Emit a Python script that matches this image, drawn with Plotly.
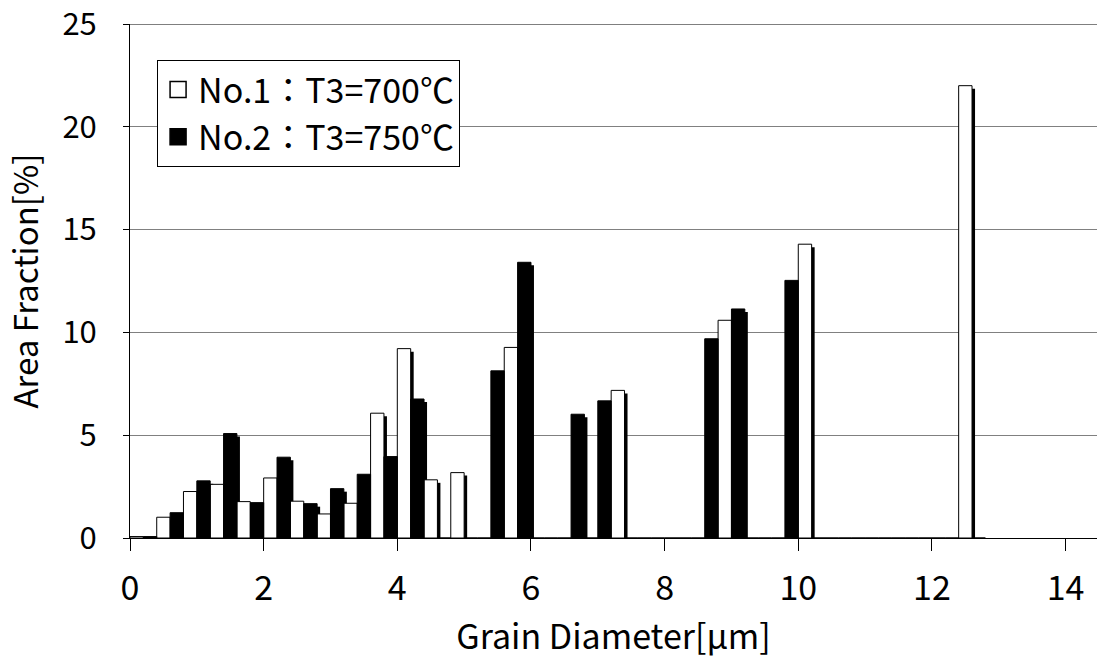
import plotly.graph_objects as go

# Category (bin) start positions in µm, bins are 0.4 µm wide
bin_start = [0.0, 0.4, 0.8, 1.2, 1.6, 2.0, 2.4, 2.8, 3.2, 3.6, 4.0, 4.4, 4.8, 5.2, 5.6, 6.0,
             6.4, 6.8, 7.2, 7.6, 8.0, 8.4, 8.8, 9.2, 9.6, 10.0, 10.4, 10.8, 11.2, 11.6, 12.0, 12.4]

no1_values = [0.07, 1.01, 2.26, 2.61, 1.77, 2.92, 1.79, 1.17, 1.69, 6.07, 9.21, 2.83, 3.18, 0.0, 9.27, 0.0,
              0.0, 0.0, 7.18, 0.0, 0.0, 0.0, 10.59, 0.0, 0.0, 14.29, 0.0, 0.0, 0.0, 0.0, 0.0, 22.0]
no2_values = [0.07, 1.23, 2.78, 5.08, 1.72, 3.93, 1.67, 2.40, 3.10, 3.96, 6.76, 0.0, 0.0, 8.13, 13.41, 0.0,
              6.02, 6.67, 0.0, 0.0, 0.0, 9.69, 11.14, 0.0, 12.53, 0.0, 0.0, 0.0, 0.0, 0.0, 0.0, 0.0]

series_names = ["No.1：T3=700℃", "No.2：T3=750℃"]
series_colors = ["white", "black"]
x_ticks = [0, 2, 4, 6, 8, 10, 12, 14]
y_ticks = [0, 5, 10, 15, 20, 25]

FONT = "Noto Sans CJK JP"
BAR_W = 0.2
SH_DX = 0.045   # shadow offset (x units)
SH_DY = 0.146   # shadow offset (y units)

x1 = [s + BAR_W / 2 for s in bin_start]
x2 = [s + 3 * BAR_W / 2 for s in bin_start]

fig = go.Figure()

# shadows first
for xs, vals in ((x1, no1_values), (x2, no2_values)):
    fig.add_trace(go.Bar(
        x=[v + SH_DX for v in xs], y=vals, base=[-SH_DY] * len(vals), width=BAR_W,
        marker=dict(color="black", line=dict(width=0)), showlegend=False, hoverinfo="skip"))

for xs, vals, name, col in ((x1, no1_values, series_names[0], series_colors[0]),
                            (x2, no2_values, series_names[1], series_colors[1])):
    fig.add_trace(go.Bar(
        x=xs, y=vals, width=BAR_W, name=name, legendgroup=name, showlegend=False,
        marker=dict(color=col, line=dict(color="black", width=1))))
    # legend proxy with a larger square symbol
    fig.add_trace(go.Scatter(
        x=[None], y=[None], mode="markers", name=name, legendgroup=name,
        marker=dict(symbol="square", size=20, color=col, line=dict(color="black", width=1.5))))

fig.add_shape(type="line", xref="paper", yref="y", x0=0, x1=1, y0=25, y1=25,
              line=dict(color="black", width=1))

fig.update_layout(
    width=1106, height=666,
    margin=dict(l=130, r=9, t=24, b=128, autoexpand=False),
    paper_bgcolor="white", plot_bgcolor="white",
    barmode="overlay",
    font=dict(family=FONT, color="black"),
    showlegend=True,
    legend=dict(x=0.028, y=0.93, xanchor="left", yanchor="top",
                bgcolor="white", bordercolor="black", borderwidth=1,
                font=dict(size=34, family=FONT, color="black"),
                itemsizing="trace", itemwidth=30, tracegroupgap=0,
                traceorder="normal"),
    xaxis=dict(range=[0, 14.47], tickvals=x_ticks, ticktext=[str(t) for t in x_ticks],
               showgrid=False, zeroline=False, showline=True, linecolor="black", linewidth=1,
               ticks="outside", ticklen=12, tickcolor="black", automargin=False,
               tickfont=dict(size=34, family=FONT), ticklabelstandoff=8,
               title=dict(text="Grain Diameter[μm]", font=dict(size=34, family=FONT), standoff=10)),
    yaxis=dict(range=[0, 25], tickvals=y_ticks, ticktext=[str(t) for t in y_ticks],
               showgrid=True, gridcolor="#808080", gridwidth=1, zeroline=False,
               showline=True, linecolor="black", linewidth=1,
               ticks="outside", ticklen=6, tickcolor="black", automargin=False,
               tickfont=dict(size=31, family=FONT), ticklabelstandoff=20,
               ticklabeloverflow="allow",
               title=dict(text="Area Fraction[%]", font=dict(size=33, family=FONT), standoff=14)),
)

fig.write_html("out.html")
